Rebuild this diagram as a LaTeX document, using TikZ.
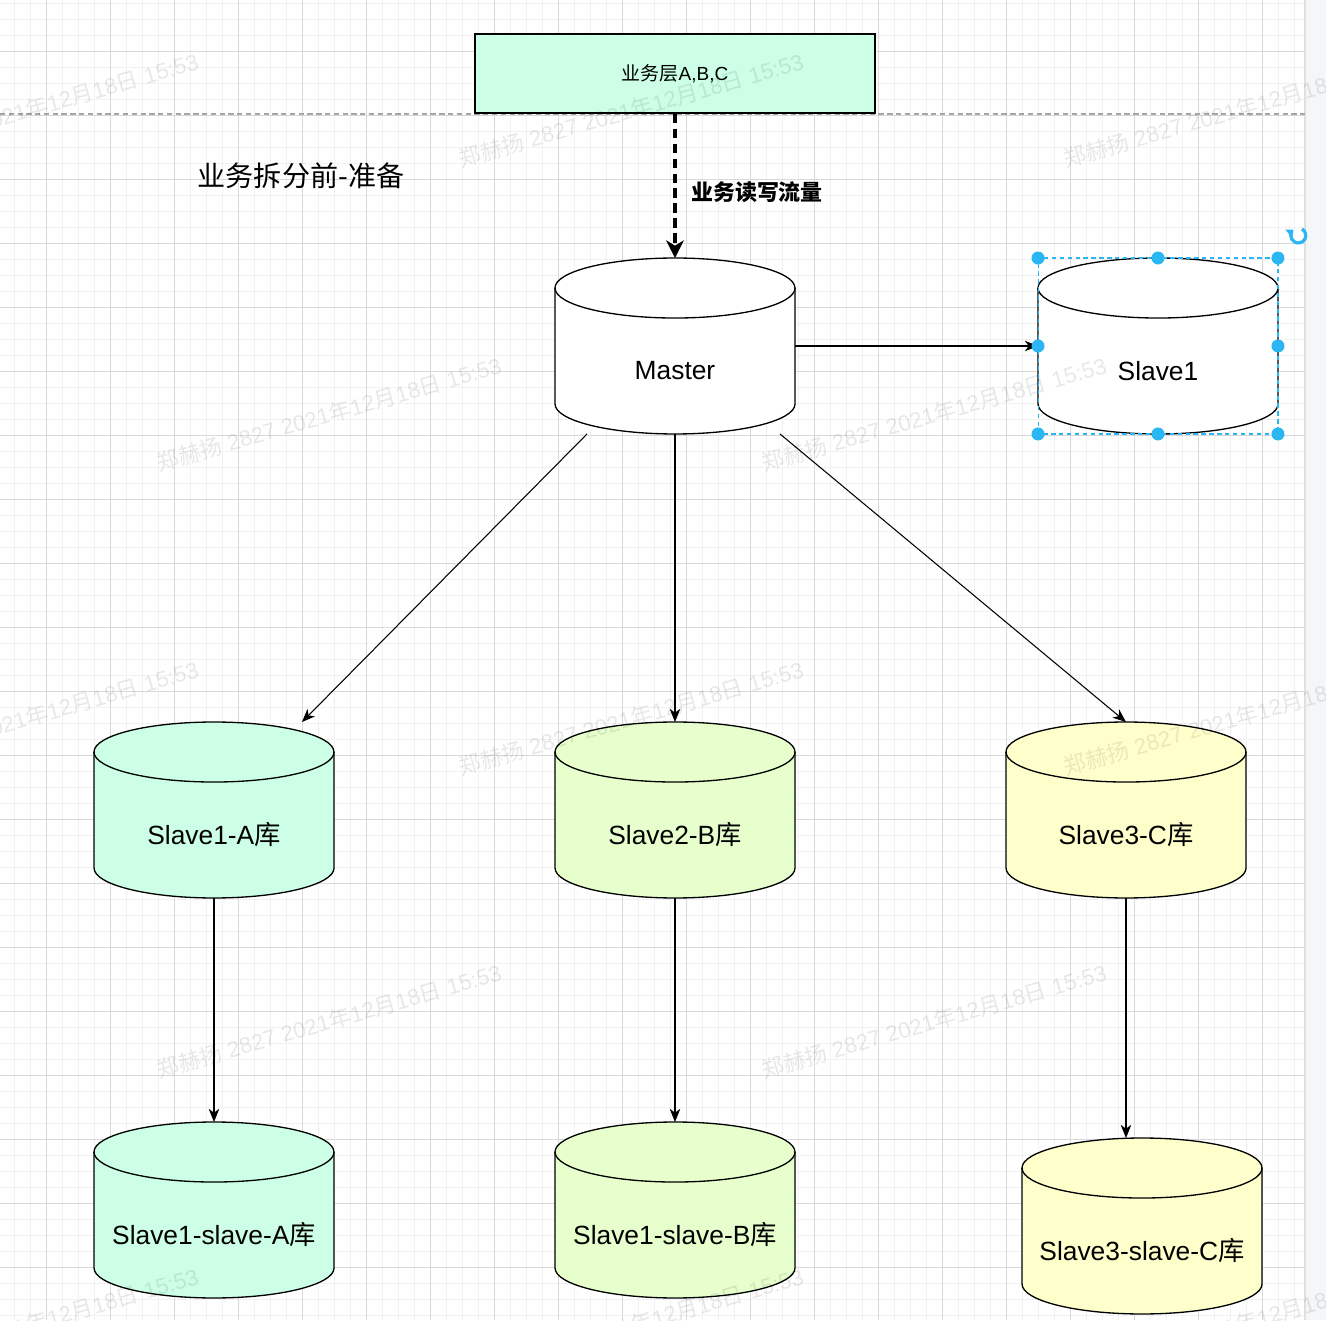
\documentclass[tikz,border=0pt]{standalone}
\usepackage{fontspec}
\setmainfont{Liberation Sans}
\newfontfamily\cjk{Noto Sans CJK SC}
\usetikzlibrary{arrows.meta,calc}

\definecolor{mintfill}{HTML}{CCFFE6}
\definecolor{limefill}{HTML}{E6FFCC}
\definecolor{creamfill}{HTML}{FFFFCC}
\definecolor{gridminor}{HTML}{F1F1F1}
\definecolor{gridmajor}{HTML}{D9D9D9}
\definecolor{selblue}{HTML}{29B6F2}
\definecolor{sidebar}{HTML}{F5F6F8}

\tikzset{
  db/.style={minimum width=4.8cm,minimum height=3.52cm,inner sep=0pt,outer sep=0pt},
  dbtext/.style={font=\fontsize{15}{18}\selectfont},
  link/.style={line width=0.6pt,-{Stealth[length=7.5pt,width=6pt,inset=2.2pt]}},
  flow/.style={line width=2.2pt,dash pattern=on 5.5pt off 3pt,-{Stealth[length=10pt,width=10pt,inset=3pt]}},
  wmtext/.style={font=\fontsize{12.7}{14}\selectfont,text=black,text opacity=0.09,rotate=16}
}

\begin{document}
\begin{tikzpicture}[x=0.02cm,y=0.02cm]
    \useasboundingbox (0,0) rectangle (1326,1320);
    \fill[white] (0,0) rectangle (1305,1320);
    \fill[sidebar] (1305,0) rectangle (1326,1320);
    % grid of the canvas
    \foreach \k in {1,...,81}
        \draw[gridminor,line width=0.5pt] ({-2+16*\k},0) -- ({-2+16*\k},1320);
    \foreach \k in {0,...,82}
        \draw[gridminor,line width=0.5pt] (0,{1316.5-16*\k}) -- (1305,{1316.5-16*\k});
    \foreach \k in {0,...,19}
        \draw[gridmajor,line width=0.5pt] ({46.5+64*\k},0) -- ({46.5+64*\k},1320);
    \foreach \k in {0,...,19}
        \draw[gridmajor,line width=0.5pt] (0,{1268.5-64*\k}) -- (1305,{1268.5-64*\k});
    \draw[black!12,line width=0.6pt] (1305,0) -- (1305,1320);
    \draw[black!35,line width=0.6pt,dash pattern=on 3pt off 2pt] (0,1206) -- (1305,1206);

    % layer box and title
    \node[draw,fill=mintfill,line width=0.9pt,minimum width=8cm,minimum height=1.58cm,
          font=\fontsize{10.8}{13}\selectfont] (biz) at (675,1246.5) {{\cjk 业务层}A,B,C};
    \node[font=\cjk\fontsize{16}{19}\selectfont] (title) at (301,1144) {业务拆分前-准备};

    % databases
    \node[db] (master) at (675,974) {};
    \node[db] (slaveone) at (1158,974) {};
    \node[db] (slaveA) at (214,510) {};
    \node[db] (slaveB) at (675,510) {};
    \node[db] (slaveC) at (1126,510) {};
    \node[db] (slaveAA) at (214,110) {};
    \node[db] (slaveBB) at (675,110) {};
    \node[db] (slaveCC) at (1142,94) {};
    \foreach \n/\col in {master/white,slaveone/white,slaveA/mintfill,slaveB/limefill,
                         slaveC/creamfill,slaveAA/mintfill,slaveBB/limefill,slaveCC/creamfill}{
        \filldraw[fill=\col,line width=0.75pt] ($(\n.north west)+(0,-30)$) -- ($(\n.south west)+(0,30)$)
            arc[start angle=180,end angle=360,x radius=120,y radius=30]
            -- ($(\n.north east)+(0,-30)$)
            arc[start angle=0,end angle=180,x radius=120,y radius=30] -- cycle;
        \draw[line width=0.75pt] ($(\n.north west)+(0,-30)$)
            arc[start angle=180,end angle=360,x radius=120,y radius=30];
    }
    \node[dbtext] (masterT) at ($(master)+(0,-25)$) {Master};
    \node[dbtext] (slaveoneT) at ($(slaveone)+(0,-25)$) {Slave1};
    \node[dbtext] (slaveAT) at ($(slaveA)+(0,-25)$) {Slave1-A{\cjk 库}};
    \node[dbtext] (slaveBT) at ($(slaveB)+(0,-25)$) {Slave2-B{\cjk 库}};
    \node[dbtext] (slaveCT) at ($(slaveC)+(0,-25)$) {Slave3-C{\cjk 库}};
    \node[dbtext] (slaveAAT) at ($(slaveAA)+(0,-25)$) {Slave1-slave-A{\cjk 库}};
    \node[dbtext] (slaveBBT) at ($(slaveBB)+(0,-25)$) {Slave1-slave-B{\cjk 库}};
    \node[dbtext] (slaveCCT) at ($(slaveCC)+(0,-25)$) {Slave3-slave-C{\cjk 库}};

    % traffic
    \draw[flow] (biz.south) -- (master.north);
    \node[font=\cjk\bfseries\fontsize{12.5}{15}\selectfont] (flowT) at (757,1128) {业务读写流量};

    \draw[link] (master.east) -- (slaveone.west);
    \draw[link] ($(master.south)+(-88,0)$) -- ($(slaveA.north)+(88,0)$);
    \draw[link] (master.south) -- (slaveB.north);
    \draw[link] ($(master.south)+(105,0)$) -- (slaveC.north);
    \draw[link] (slaveA.south) -- (slaveAA.north);
    \draw[link] (slaveB.south) -- (slaveBB.north);
    \draw[link] (slaveC.south) -- (slaveCC.north -| slaveC.south);

    % selection of Slave1
    \draw[selblue,line width=0.6pt,dash pattern=on 2.5pt off 2pt] (slaveone.south west) rectangle (slaveone.north east);
    \foreach \a in {north west,north,north east,east,south east,south,south west,west}
        \fill[selblue] (slaveone.\a) circle (6.5);
    \draw[selblue,line width=1.8pt,-{Triangle[length=3.5pt,width=6pt]}] (1302,1091) arc[start angle=60,end angle=-230,radius=7.5];

    % watermark
    \begin{scope}
        \clip (0,0) rectangle (1326,1320);
        \foreach \x/\y/\i in {26/1210/1,631/1210/2,1236/1210/3,329/906/4,934/906/5,26/602/6,631/602/7,
                              1236/602/8,329/299/9,934/299/10,26/-5/11,631/-5/12,1236/-5/13}
            \node[wmtext] (wm\i) at (\x,\y) {{\cjk 郑赫扬} 2827 2021{\cjk 年}12{\cjk 月}18{\cjk 日} 15:53};
    \end{scope}
\end{tikzpicture}
\end{document}
